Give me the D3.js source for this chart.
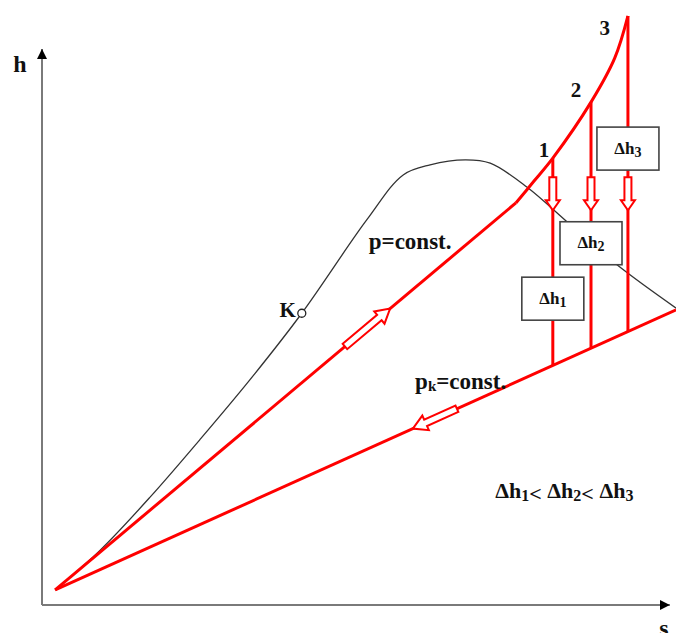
<!DOCTYPE html>
<html>
<head>
<meta charset="utf-8">
<script src="https://cdn.jsdelivr.net/npm/d3@7"></script>
<style>
  body { margin: 0; background: #fff; }
  text { font-family: "Liberation Serif", "Times New Roman", serif; font-weight: bold; fill: #111; }
</style>
</head>
<body>
<svg id="chart" width="676" height="633"></svg>
<script>
// h-s diagram, values in diagram units (s: 0..10, h: 0..10)
var axisEnd = {s: 10.03, h: 9.93};

// saturation dome (black), through the critical point K
var satS = [0.21, 0.93, 1.73, 2.52, 3.32, 4.15, 5.19, 5.77, 6.20, 6.76, 7.16, 7.75, 8.39, 9.19, 10.13];
var satH = [0.27, 0.98, 1.93, 2.95, 4.02, 5.21, 6.88, 7.68, 7.86, 7.95, 7.89, 7.46, 6.84, 6.07, 5.30];
var critS = 4.15, critH = 5.21;

// p = const. isobar: straight part then superheat curve to 3
var pLineS = [0.21, 7.57];
var pLineH = [0.27, 7.18];
var superS = [7.57, 7.86, 8.16, 8.77, 9.15, 9.36];
var superH = [7.18, 7.57, 7.98, 8.98, 9.77, 10.52];

// pk = const. isobar
var pkS = [0.21, 10.13];
var pkH = [0.27, 5.27];

// states 1,2,3 and the Δh boxes
var stateS = [8.16, 8.77, 9.36];
var stateH = [7.98, 8.98, 10.52];
var stateLabels = ["1", "2", "3"];
var labelS = [8.02, 8.53, 8.99];
var labelH = [8.00, 9.07, 10.18];
var boxH = [5.47, 6.46, 8.15];
var arrowTopH = 7.64, arrowTipH = 7.05;

// arrows along the isobars (fraction of the line, tail -> tip)
var pArrowT = [0.629, 0.727];
var pkArrowT = [0.647, 0.576];

var svg = d3.select("#chart");
var x = d3.scaleLinear().domain([0, 10]).range([42, 668]);
var y = d3.scaleLinear().domain([0, 10]).range([605, 45]);

var RED = "#ff0000";

// axes
svg.append("defs").append("marker")
  .attr("id", "ah")
  .attr("viewBox", "0 0 10 10")
  .attr("refX", 10).attr("refY", 5)
  .attr("markerWidth", 5).attr("markerHeight", 5)
  .attr("markerUnits", "strokeWidth")
  .attr("orient", "auto")
  .append("path").attr("d", "M0,0 L10,5 L0,10 Z").attr("fill", "#000");

svg.append("line")
  .attr("x1", x(0)).attr("y1", y(0)).attr("x2", x(0)).attr("y2", y(axisEnd.h))
  .attr("stroke", "#7a7a7a").attr("stroke-width", 2).attr("marker-end", "url(#ah)");
svg.append("line")
  .attr("x1", x(0)).attr("y1", y(0)).attr("x2", x(axisEnd.s)).attr("y2", y(0))
  .attr("stroke", "#7a7a7a").attr("stroke-width", 2).attr("marker-end", "url(#ah)");

svg.append("text").attr("x", x(-0.46)).attr("y", y(9.52)).attr("font-size", 24).text("h");
svg.append("text").attr("x", x(9.86)).attr("y", y(-0.55)).attr("font-size", 24).text("s");

// saturation dome
var line = d3.line().x(function(d){ return x(d[0]); }).y(function(d){ return y(d[1]); });
svg.append("path")
  .datum(d3.zip(satS, satH))
  .attr("d", line.curve(d3.curveCatmullRom.alpha(0.5)))
  .attr("fill", "none").attr("stroke", "#333").attr("stroke-width", 1.3);

// red lines
svg.append("path")
  .datum(d3.zip(pLineS, pLineH))
  .attr("d", d3.line().x(function(d){ return x(d[0]); }).y(function(d){ return y(d[1]); }))
  .attr("fill", "none").attr("stroke", RED).attr("stroke-width", 3);
svg.append("path")
  .datum(d3.zip(superS, superH))
  .attr("d", d3.line().x(function(d){ return x(d[0]); }).y(function(d){ return y(d[1]); })
    .curve(d3.curveCatmullRom.alpha(0.5)))
  .attr("fill", "none").attr("stroke", RED).attr("stroke-width", 3);
svg.append("path")
  .datum(d3.zip(pkS, pkH))
  .attr("d", d3.line().x(function(d){ return x(d[0]); }).y(function(d){ return y(d[1]); }))
  .attr("fill", "none").attr("stroke", RED).attr("stroke-width", 3);

// h on the pk line at a given s
function pkAt(s) {
  return pkH[0] + (s - pkS[0]) * (pkH[1] - pkH[0]) / (pkS[1] - pkS[0]);
}

// verticals from 1,2,3 down to pk
svg.selectAll(".drop")
  .data(stateS)
  .enter().append("line")
  .attr("x1", function(d){ return x(d); })
  .attr("x2", function(d){ return x(d); })
  .attr("y1", function(d, i){ return y(stateH[i]); })
  .attr("y2", function(d){ return y(pkAt(d)); })
  .attr("stroke", RED).attr("stroke-width", 3);

// hollow arrow between two pixel points
function hollowArrow(x1, y1, x2, y2, w, hw, hl) {
  var L = Math.hypot(x2 - x1, y2 - y1);
  var ang = Math.atan2(y2 - y1, x2 - x1) * 180 / Math.PI;
  var pts = [[0, -w], [L - hl, -w], [L - hl, -hw], [L, 0], [L - hl, hw], [L - hl, w], [0, w]];
  svg.append("polygon")
    .attr("points", pts.map(function(p){ return p.join(","); }).join(" "))
    .attr("transform", "translate(" + x1 + "," + y1 + ") rotate(" + ang + ")")
    .attr("fill", "#fff").attr("stroke", RED).attr("stroke-width", 2)
    .attr("stroke-linejoin", "miter");
}

function onLine(S, H, t) {
  return [x(S[0] + t * (S[1] - S[0])), y(H[0] + t * (H[1] - H[0]))];
}
var a = onLine(pLineS, pLineH, pArrowT[0]), b = onLine(pLineS, pLineH, pArrowT[1]);
hollowArrow(a[0], a[1], b[0], b[1], 3.5, 8, 14);
a = onLine(pkS, pkH, pkArrowT[0]); b = onLine(pkS, pkH, pkArrowT[1]);
hollowArrow(a[0], a[1], b[0], b[1], 3.5, 8, 14);

stateS.forEach(function(s){
  hollowArrow(x(s), y(arrowTopH), x(s), y(arrowTipH), 3.5, 7, 10);
});

// K critical point
svg.append("circle")
  .attr("cx", x(critS)).attr("cy", y(critH)).attr("r", 4)
  .attr("fill", "#fff").attr("stroke", "#222").attr("stroke-width", 1.3);
svg.append("text")
  .attr("x", x(critS) - 6).attr("y", y(critH) + 4)
  .attr("text-anchor", "end").attr("font-size", 21).text("K");

// state numbers
svg.selectAll(".num")
  .data(stateLabels)
  .enter().append("text")
  .attr("x", function(d, i){ return x(labelS[i]); })
  .attr("y", function(d, i){ return y(labelH[i]); })
  .attr("text-anchor", "middle").attr("font-size", 21)
  .text(function(d){ return d; });

// Δh boxes
var boxW = 62, boxHt = 43;
var boxes = svg.selectAll(".box")
  .data(stateLabels)
  .enter().append("g")
  .attr("transform", function(d, i){ return "translate(" + x(stateS[i]) + "," + y(boxH[i]) + ")"; });
boxes.append("rect")
  .attr("x", -boxW / 2).attr("y", -boxHt / 2)
  .attr("width", boxW).attr("height", boxHt)
  .attr("fill", "#fff").attr("stroke", "#444").attr("stroke-width", 1.6);
var bt = boxes.append("text").attr("text-anchor", "middle").attr("y", 5).attr("font-size", 17);
bt.append("tspan").text("Δh");
bt.append("tspan").attr("font-size", 14).attr("dy", 3).text(function(d){ return d; });

// isobar labels
svg.append("text").attr("x", x(5.22)).attr("y", y(6.36)).attr("font-size", 23).text("p=const.");
var pk = svg.append("text").attr("x", x(5.96)).attr("y", y(3.86)).attr("font-size", 23);
pk.append("tspan").text("p");
pk.append("tspan").attr("font-size", 15).attr("dy", 2).text("k");
pk.append("tspan").attr("dy", -2).text("=const.");

// inequality
var ineq = svg.append("text").attr("x", x(7.24)).attr("y", y(1.91)).attr("font-size", 22);
["1", "2", "3"].forEach(function(n, i){
  ineq.append("tspan").attr("dy", i ? -3 : 0).text((i ? " " : "") + "Δh");
  ineq.append("tspan").attr("font-size", 16).attr("dy", 3).text(n);
  if (i < 2) ineq.append("tspan").attr("dy", 0).text("<");
});
</script>
</body>
</html>
